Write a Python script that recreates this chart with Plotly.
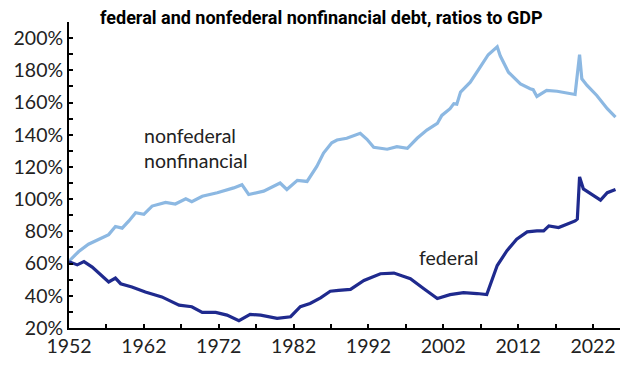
import plotly.graph_objects as go

# nonfederal nonfinancial debt, % of GDP
nonfed_years = [1952.0, 1953.3, 1954.6, 1956.0, 1957.3, 1958.2, 1959.1, 1960.0, 1960.9, 1962.0,
                1963.1, 1964.9, 1966.2, 1967.6, 1968.4, 1969.8, 1971.8, 1974.0, 1975.1, 1976.0,
                1978.0, 1980.2, 1981.1, 1982.5, 1983.8, 1985.1, 1986.0, 1987.1, 1987.8, 1989.1,
                1990.0, 1990.9, 1991.8, 1992.7, 1994.5, 1995.8, 1997.2, 1998.5, 1999.8, 2001.2,
                2001.8, 2002.9, 2003.4, 2003.8, 2004.3, 2005.6, 2006.9, 2008.0, 2009.2, 2009.6,
                2010.7, 2012.3, 2013.6, 2014.0, 2014.5, 2015.8, 2017.2, 2018.5, 2019.6, 2020.2,
                2020.5, 2021.2, 2022.5, 2023.9, 2025.0]
nonfed_values = [61.5, 67.5, 72.0, 75.0, 78.0, 83.0, 82.0, 86.5, 91.6, 90.6,
                 95.7, 98.0, 97.0, 100.2, 98.4, 101.8, 104.0, 107.0, 109.0, 102.9,
                 105.0, 110.0, 106.0, 111.7, 111.0, 120.3, 128.6, 135.0, 136.7, 137.8,
                 139.2, 140.9, 137.2, 132.2, 131.0, 132.6, 131.6, 137.8, 142.9, 147.0,
                 152.0, 156.2, 159.3, 159.0, 166.5, 172.6, 181.9, 189.7, 194.6, 189.0,
                 178.8, 171.6, 168.6, 168.0, 163.8, 167.5, 167.0, 166.0, 165.0, 189.7,
                 174.7, 170.6, 164.4, 156.2, 151.0]

# federal debt, % of GDP
fed_years = [1952.0, 1953.1, 1954.0, 1955.1, 1957.3, 1958.2, 1958.9, 1960.4, 1962.2, 1964.4,
             1966.7, 1968.4, 1969.8, 1971.6, 1973.1, 1974.7, 1976.2, 1977.6, 1979.8, 1981.6,
             1982.9, 1984.2, 1985.6, 1986.9, 1988.0, 1989.6, 1991.4, 1993.6, 1995.4, 1997.6,
             1999.4, 2001.2, 2002.9, 2004.7, 2006.5, 2007.8, 2009.2, 2010.5, 2011.8, 2013.2,
             2014.5, 2015.4, 2016.1, 2017.4, 2018.5, 2019.6, 2019.9, 2020.2, 2020.7, 2021.9,
             2023.0, 2023.9, 2025.0]
fed_values = [61.2, 59.2, 61.2, 57.8, 48.6, 51.0, 47.5, 45.5, 42.4, 39.3,
              34.2, 33.2, 29.7, 29.7, 28.0, 24.5, 28.4, 28.0, 26.0, 27.0,
              33.2, 35.2, 38.7, 42.8, 43.4, 44.0, 49.5, 53.7, 54.1, 50.6,
              44.4, 38.3, 40.7, 42.0, 41.4, 40.8, 58.8, 68.0, 75.2, 79.7,
              80.3, 80.3, 83.4, 82.4, 84.4, 86.5, 87.7, 113.8, 106.4, 102.9,
              99.4, 104.0, 106.0]

x_tickvals = [1952, 1962, 1972, 1982, 1992, 2002, 2012, 2022]
y_tickvals = [20, 40, 60, 80, 100, 120, 140, 160, 180, 200]
y_ticktext = [f"{v}%" for v in y_tickvals]

LIGHT = "#8cb8e2"
DARK = "#1f2a8e"
FONT = "Lato, 'Open Sans', sans-serif"
FS = 19.5

fig = go.Figure()
fig.add_trace(go.Scatter(x=nonfed_years, y=nonfed_values, mode="lines",
                         line=dict(color=LIGHT, width=3.2), hoverinfo="skip"))
fig.add_trace(go.Scatter(x=fed_years, y=fed_values, mode="lines",
                         line=dict(color=DARK, width=3.2), hoverinfo="skip"))

fig.add_annotation(x=1961.8, y=131.5, xref="x", yref="y", text="nonfederal<br>nonfinancial",
                   showarrow=False, xanchor="left", yanchor="middle", align="left",
                   font=dict(family=FONT, size=FS, color="#222"))
fig.add_annotation(x=1998.5, y=63.5, xref="x", yref="y", text="federal",
                   showarrow=False, xanchor="left", yanchor="middle",
                   font=dict(family=FONT, size=FS, color="#222"))

fig.update_layout(
    width=630, height=367,
    margin=dict(l=69, r=10, t=22, b=37),
    paper_bgcolor="white", plot_bgcolor="white",
    showlegend=False,
    title=dict(text="<b>federal and nonfederal nonfinancial debt, ratios to GDP</b>",
               x=0.51, xanchor="center", y=0.953, yanchor="middle",
               font=dict(family="'Liberation Sans Narrow', 'Roboto', sans-serif", size=18, color="black")),
    font=dict(family=FONT, size=FS, color="#222"),
)
fig.update_xaxes(range=[1952, 2025.6], tickvals=x_tickvals, ticktext=[str(v) for v in x_tickvals],
                 showgrid=False, zeroline=False, showline=True, linecolor="black", linewidth=2,
                 ticks="inside", ticklen=4, tickwidth=2, tickcolor="black",
                 minor=dict(ticks="inside", tick0=1957, dtick=10, ticklen=4, tickwidth=2, tickcolor="black"),
                 tickfont=dict(family=FONT, size=FS, color="#222"))
fig.update_yaxes(range=[20, 210], tickvals=y_tickvals, ticktext=y_ticktext,
                 showgrid=False, zeroline=False, showline=True, linecolor="black", linewidth=2,
                 ticks="inside", ticklen=4, tickwidth=2, tickcolor="black",
                 minor=dict(ticks="inside", tick0=10, dtick=20, ticklen=4, tickwidth=2, tickcolor="black"),
                 tickfont=dict(family=FONT, size=FS, color="#222"))

fig.write_html("out.html", config={"displayModeBar": False},
               post_script="document.body.style.margin='0';document.body.style.padding='0';")
